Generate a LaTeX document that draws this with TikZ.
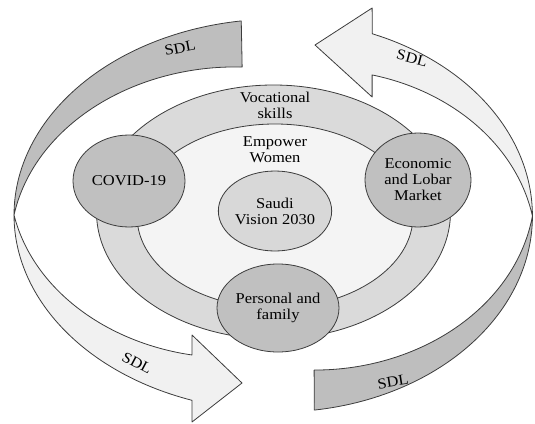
\documentclass[tikz,border=0pt]{standalone}
\usepackage{fontspec}
\setmainfont{Liberation Serif}[FakeStretch=1.1]
\usetikzlibrary{shapes.geometric}

\definecolor{bandDark}{RGB}{190,190,190}
\definecolor{bandLight}{RGB}{241,241,241}
\definecolor{ringGray}{RGB}{218,218,218}
\definecolor{coreGray}{RGB}{244,244,244}
\definecolor{bubbleGray}{RGB}{192,192,192}
\definecolor{visionGray}{RGB}{216,216,216}
\definecolor{edgeGray}{RGB}{60,60,60}

\begin{document}
\begin{tikzpicture}[x=1pt, y=-1pt,
    txt/.style={font=\fontsize{15}{16}\selectfont, align=center, inner sep=0pt},
    bubble/.style={ellipse, draw=edgeGray, line width=0.8pt, inner sep=0pt, txt},
    band/.style={draw=edgeGray, line width=0.8pt, line join=round}]
    \useasboundingbox (0,0) rectangle (535,423);

    % Bandes SDL a gauche
    \begin{scope}[shift={(278,215)}]
        \draw[band, fill=bandDark] plot[domain=262:180, samples=60, variable=\t] ({264*cos(\t)}, {196*sin(\t)})
            -- plot[domain=180:259.8, samples=60, variable=\t] ({264*(1-0.233*(\t-180)/79.8)*cos(\t)}, {196*(1-0.233*(\t-180)/79.8)*sin(\t)}) -- cycle;
        \draw[band, fill=bandLight] plot[domain=180:109, samples=60, variable=\t] ({264*cos(\t)}, {196*sin(\t)})
            -- (-86,207) -- (-36,168) -- (-86,120) -- (-86,140)
            -- plot[domain=114.5:180, samples=60, variable=\t] ({264*(0.785+0.215*(\t-114.5)/65.5)*cos(\t)}, {196*(0.785+0.215*(\t-114.5)/65.5)*sin(\t)}) -- cycle;
    \end{scope}

    % Bandes SDL a droite
    \begin{scope}[shift={(279,216)}, rotate=180, xscale=0.96]
        \draw[band, fill=bandDark] plot[domain=262:180, samples=60, variable=\t] ({264*cos(\t)}, {196*sin(\t)})
            -- plot[domain=180:260, samples=60, variable=\t] ({264*(1-0.202*(\t-180)/80)*cos(\t)}, {196*(1-0.202*(\t-180)/80)*sin(\t)}) -- cycle;
        \draw[band, fill=bandLight] plot[domain=180:111.6, samples=60, variable=\t] ({264*cos(\t)}, {196*sin(\t)})
            -- (-97,208) -- (-37.5,171) -- (-97,119) -- (-97,141)
            -- plot[domain=117:180, samples=60, variable=\t] ({264*(0.808+0.192*(\t-117)/63)*cos(\t)}, {196*(0.808+0.192*(\t-117)/63)*sin(\t)}) -- cycle;
    \end{scope}

    % Etiquettes SDL
    \node[txt, rotate=11] (sdlA) at (180,48) {SDL};
    \node[txt, rotate=-15] (sdlB) at (412,58) {SDL};
    \node[txt, rotate=-28] (sdlC) at (137,363) {SDL};
    \node[txt, rotate=9] (sdlD) at (393,382) {SDL};

    % Anneaux
    \node[bubble, fill=ringGray, minimum width=354, minimum height=254] (voc) at (273.5,212) {};
    \node[bubble, fill=coreGray, minimum width=276, minimum height=184] (empower) at (275,216) {};
    \node[txt] (vocText) at (275,105) {Vocational\\skills};
    \node[txt] (empText) at (275,150) {Empower\\Women};

    % Cercles
    \node[bubble, fill=visionGray, minimum width=106, minimum height=80] (vision) at (275,211) {Saudi\\Vision 2030};
    \node[bubble, fill=bubbleGray, minimum width=112, minimum height=92] (covid) at (129,181) {COVID-19};
    \node[bubble, fill=bubbleGray, minimum width=106, minimum height=94] (market) at (418,180) {Economic\\and Lobar\\Market};
    \node[bubble, fill=bubbleGray, minimum width=122, minimum height=88] (family) at (278,308) {Personal and\\family};
\end{tikzpicture}
\end{document}
